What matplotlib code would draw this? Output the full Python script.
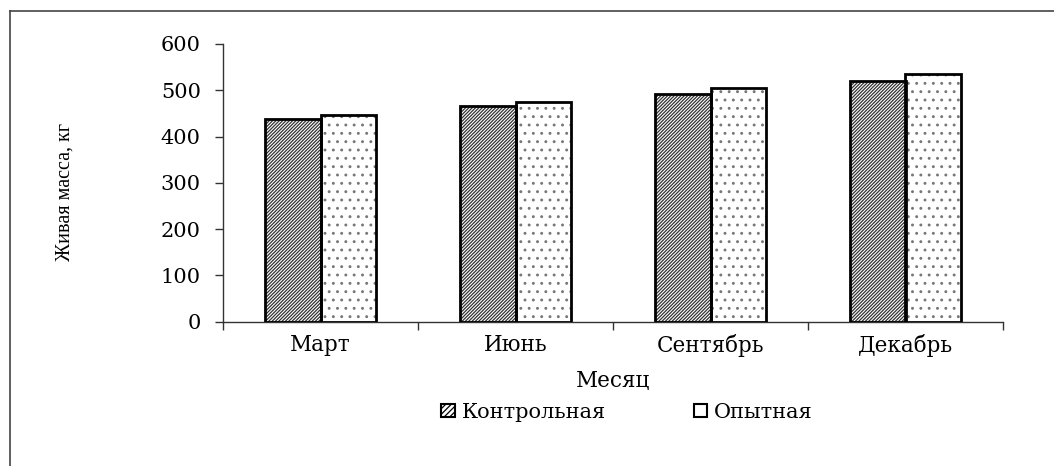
import matplotlib
matplotlib.use("Agg")
import matplotlib.pyplot as plt
from matplotlib.patches import Patch
from matplotlib.lines import Line2D
import numpy as np

months = ["Март", "Июнь", "Сентябрь", "Декабрь"]
control = [437, 466, 493, 521]
experimental = [447, 475, 504, 535]
series_names = ["Контрольная", "Опытная"]
y_ticks = [0, 100, 200, 300, 400, 500, 600]
x_title = "Месяц"
y_title = "Живая масса, кг"

plt.rcParams['font.family'] = ['DejaVu Serif']
plt.rcParams['hatch.linewidth'] = 0.9

W, H = 1054, 466
fig = plt.figure(figsize=(W / 100, H / 100), dpi=100)
ax = fig.add_axes([223 / W, 1 - 321.7 / H, 780 / W, 277.7 / H])

x = np.arange(len(months)) + 0.5
bw = 0.287
# hatch layers (grey pattern)
ax.bar(x - bw / 2, control, width=bw, facecolor='white', edgecolor='#333333',
       hatch='//////////', linewidth=0, zorder=3)
ax.bar(x + bw / 2, experimental, width=bw, facecolor='white', edgecolor='#777777',
       hatch='..', linewidth=0, zorder=3)
# outlines
ax.bar(x - bw / 2, control, width=bw, fill=False, edgecolor='black', linewidth=2.0, zorder=4)
ax.bar(x + bw / 2, experimental, width=bw, fill=False, edgecolor='black', linewidth=2.0, zorder=4)

ax.set_xlim(0, len(months))
ax.set_ylim(0, 600)
ax.set_yticks(y_ticks)
ax.set_xticks(np.arange(len(months) + 1))
ax.set_xticklabels([])
ax.set_xticks(x, minor=True)
ax.set_xticklabels(months, minor=True)
ax.tick_params(axis='x', which='major', direction='out', length=6, width=1, color='#333333')
ax.tick_params(axis='x', which='minor', length=0, pad=9, labelsize=15.5)
ax.tick_params(axis='y', direction='out', length=6, width=1, color='#333333',
               pad=10, labelsize=15)

for s in ['top', 'right']:
    ax.spines[s].set_visible(False)
for s in ['left', 'bottom']:
    ax.spines[s].set_color('#333333')
    ax.spines[s].set_linewidth(1.0)

ax.set_xlabel(x_title, fontsize=15.5)
ax.xaxis.set_label_coords(0.5, -0.175)
ax.set_ylabel(y_title, fontsize=14.5, family=['Liberation Serif', 'DejaVu Serif'])
ax.yaxis.set_label_coords(-0.19, 0.467)

handles = [Patch(facecolor='white', edgecolor='black', hatch='//////', linewidth=1.5),
           Patch(facecolor='white', edgecolor='black', hatch='.', linewidth=1.5)]
fig.legend(handles, series_names, loc='center', bbox_to_anchor=(627 / W, 1 - 412 / H),
           ncol=2, frameon=False, fontsize=15, handlelength=0.65, handleheight=0.6,
           handletextpad=0.35, columnspacing=4.2)

# outer frame (left and top edges visible)
fig.add_artist(Line2D([10 / W, 10 / W], [0, 1 - 11 / H], transform=fig.transFigure,
                      color='#444444', linewidth=1.2))
fig.add_artist(Line2D([10 / W, 1], [1 - 11 / H, 1 - 11 / H], transform=fig.transFigure,
                      color='#444444', linewidth=1.2))

fig.savefig("out.png", dpi=100)
